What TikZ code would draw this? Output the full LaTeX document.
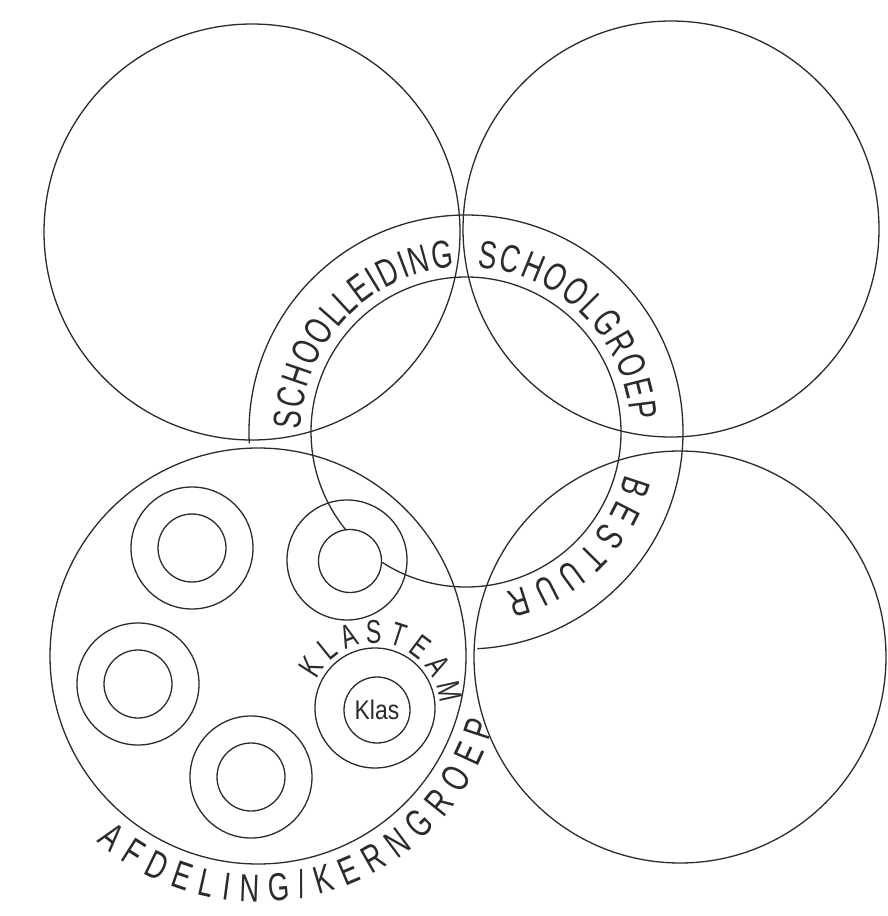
\documentclass[tikz,border=0pt]{standalone}
\usepackage{fontspec}
\setmainfont{Liberation Sans}
\newfontfamily\letterfont[FakeStretch=0.7]{Liberation Sans}
\newfontfamily\klasfont[FakeStretch=0.85]{Liberation Sans}
\usetikzlibrary{decorations.text}
\definecolor{inkgrey}{HTML}{2B2B2B}
\newcommand\ringfont{\letterfont\fontsize{39}{44}\selectfont}
\newcommand\teamfont{\letterfont\fontsize{33}{36}\selectfont}
\newcommand\groupfont{\letterfont\fontsize{39}{42}\selectfont}

\begin{document}
\begin{tikzpicture}[
    x=1pt, y=1pt,
    pen/.style={draw=inkgrey, line width=1.3pt},
    ringlabel/.style={decorate, decoration={text along path, text align=fit to path, text color=inkgrey, text={|\ringfont|#1}}},
    teamlabel/.style={decorate, decoration={text along path, text align=fit to path, text color=inkgrey, text={|\teamfont|#1}}},
    grouplabel/.style={decorate, decoration={text along path, text align=fit to path, text color=inkgrey, text={|\groupfont|#1}}},
]
\useasboundingbox[fill=white] (0,0) rectangle (887,-916);

% centres
\coordinate (topleft) at (252,-232);
\coordinate (topright) at (671,-229);
\coordinate (afdeling) at (258,-656);
\coordinate (botright) at (680,-657);
\coordinate (ring) at (466,-432);

% big circles
\draw[pen] (topleft) circle[radius=208];
\draw[pen] (topright) circle[radius=208];
\draw[pen] (afdeling) circle[radius=208];
\draw[pen] (botright) circle[radius=206];

% ring: outer arc and inner circle running into the klas circle
\draw[pen] ([shift={(183:217)}]ring) arc[start angle=183, end angle=-87, radius=217];
\draw[pen] ([shift={(237.3:155)}]ring) arc[start angle=237.3, end angle=579.2, radius=155];

% small rings in the afdeling
\coordinate (ringa) at (192,-548);
\coordinate (ringb) at (347,-560);
\coordinate (ringc) at (138,-684);
\coordinate (ringd) at (251,-777);
\coordinate (klasteam) at (375,-708);
\foreach \c in {ringa,ringc,ringd} {
  \draw[pen] (\c) circle[radius=61];
  \draw[pen] (\c) circle[radius=34];
}
\draw[pen] (ringb) circle[radius=60];
\coordinate (klasb) at (350,-561);
\draw[pen] (klasb) circle[radius=31.5];
\draw[pen] (klasteam) circle[radius=60];
\coordinate (klas) at (377,-710);
\draw[pen] (klas) circle[radius=33];
\node[inkgrey, font=\klasfont\fontsize{27}{30}\selectfont] (klaslabel) at (klas) {Klas};

% labels along the circles
\path[ringlabel=SCHOOLLEIDING] ([shift={(179:165)}]ring) arc[start angle=179, end angle=94, radius=165];
\path[ringlabel=SCHOOLGROEP] ([shift={(86:165)}]ring) arc[start angle=86, end angle=4, radius=165];
\path[ringlabel=BESTUUR] ([shift={(-15:165)}]ring) arc[start angle=-15, end angle=-76, radius=165];
\path[teamlabel=KLASTEAM] ([shift={(154:65)}]klasteam) arc[start angle=154, end angle=4, radius=65];
\path[grouplabel=AFDELING/KERNGROEP] ([shift={(229:246)}]afdeling) arc[start angle=229, end angle=344, radius=246];

\end{tikzpicture}
\end{document}
